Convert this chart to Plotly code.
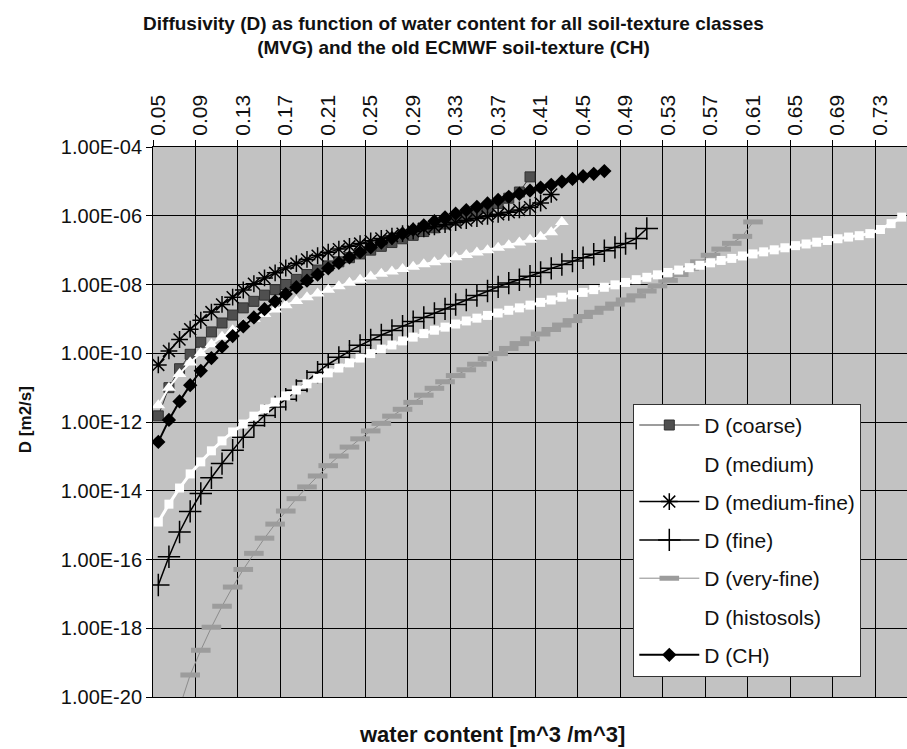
import plotly.graph_objects as go

# Water-content categories (m^3/m^3), one every 0.01
theta = [0.05, 0.06, 0.07, 0.08, 0.09, 0.10, 0.11, 0.12, 0.13, 0.14,
         0.15, 0.16, 0.17, 0.18, 0.19, 0.20, 0.21, 0.22, 0.23, 0.24,
         0.25, 0.26, 0.27, 0.28, 0.29, 0.30, 0.31, 0.32, 0.33, 0.34,
         0.35, 0.36, 0.37, 0.38, 0.39, 0.40, 0.41, 0.42, 0.43, 0.44,
         0.45, 0.46, 0.47, 0.48, 0.49, 0.50, 0.51, 0.52, 0.53, 0.54,
         0.55, 0.56, 0.57, 0.58, 0.59, 0.60, 0.61, 0.62, 0.63, 0.64,
         0.65, 0.66, 0.67, 0.68, 0.69, 0.70, 0.71, 0.72, 0.73, 0.74,
         0.75]

# Diffusivity D (m2/s) per soil texture, starting at the given theta
D_coarse = [1.51e-12, 1.00e-11, 3.55e-11, 9.33e-11, 2.09e-10, 4.17e-10, 7.59e-10, 1.29e-9,
            2.09e-9, 3.24e-9, 4.90e-9, 7.08e-9, 1.00e-8, 1.41e-8, 1.95e-8, 2.63e-8,
            3.47e-8, 4.57e-8, 6.03e-8, 7.76e-8, 1.00e-7, 1.29e-7, 1.66e-7, 2.14e-7,
            2.69e-7, 3.47e-7, 4.47e-7, 5.75e-7, 7.41e-7, 9.55e-7, 1.26e-6, 1.66e-6,
            2.29e-6, 3.24e-6, 4.90e-6, 1.35e-5]
D_medium = [3.09e-12, 1.00e-11, 2.51e-11, 5.37e-11, 1.02e-10, 1.82e-10, 3.02e-10, 4.68e-10,
            6.92e-10, 1.00e-9, 1.38e-9, 1.86e-9, 2.51e-9, 3.31e-9, 4.27e-9, 5.50e-9,
            7.08e-9, 8.91e-9, 1.12e-8, 1.38e-8, 1.70e-8, 2.04e-8, 2.40e-8, 2.82e-8,
            3.31e-8, 3.89e-8, 4.47e-8, 5.25e-8, 6.17e-8, 7.24e-8, 8.51e-8, 1.00e-7,
            1.17e-7, 1.38e-7, 1.66e-7, 2.00e-7, 2.45e-7, 3.31e-7, 6.61e-7]
D_medium_fine = [4.57e-11, 1.17e-10, 2.51e-10, 5.01e-10, 9.12e-10, 1.58e-9, 2.63e-9, 4.27e-9,
                 6.92e-9, 1.05e-8, 1.55e-8, 2.19e-8, 3.02e-8, 4.07e-8, 5.37e-8, 6.92e-8,
                 8.71e-8, 1.07e-7, 1.29e-7, 1.55e-7, 1.86e-7, 2.19e-7, 2.57e-7, 3.02e-7,
                 3.55e-7, 4.17e-7, 4.79e-7, 5.50e-7, 6.31e-7, 7.24e-7, 8.32e-7, 9.55e-7,
                 1.10e-6, 1.26e-6, 1.48e-6, 1.78e-6, 2.34e-6, 4.17e-6]
D_fine = [1.82e-17, 1.20e-16, 6.31e-16, 2.51e-15, 8.32e-15, 2.40e-14, 6.17e-14, 1.51e-13,
          3.63e-13, 7.94e-13, 1.55e-12, 2.75e-12, 4.57e-12, 8.32e-12, 1.55e-11, 2.82e-11,
          4.79e-11, 7.59e-11, 1.15e-10, 1.70e-10, 2.45e-10, 3.39e-10, 4.57e-10, 6.17e-10,
          8.32e-10, 1.10e-9, 1.45e-9, 1.95e-9, 2.63e-9, 3.55e-9, 4.79e-9, 6.46e-9,
          8.51e-9, 1.10e-8, 1.38e-8, 1.74e-8, 2.24e-8, 2.95e-8, 3.80e-8, 4.79e-8,
          6.03e-8, 7.59e-8, 9.55e-8, 1.20e-7, 1.55e-7, 2.19e-7, 4.27e-7]
D_very_fine = [5.01e-21, 4.37e-20, 2.29e-19, 1.07e-18, 4.37e-18, 1.58e-17, 5.13e-17, 1.51e-16,
               4.17e-16, 1.07e-15, 2.57e-15, 5.89e-15, 1.29e-14, 2.69e-14, 5.37e-14, 1.02e-13,
               1.86e-13, 3.24e-13, 5.50e-13, 9.12e-13, 1.48e-12, 2.34e-12, 3.72e-12, 6.03e-12,
               9.55e-12, 1.48e-11, 2.24e-11, 3.31e-11, 4.79e-11, 6.92e-11, 9.77e-11, 1.38e-10,
               1.91e-10, 2.63e-10, 3.63e-10, 4.90e-10, 6.61e-10, 8.91e-10, 1.17e-9, 1.55e-9,
               2.04e-9, 2.69e-9, 3.55e-9, 4.68e-9, 6.46e-9, 9.12e-9, 1.32e-8, 1.95e-8,
               2.95e-8, 4.57e-8, 7.08e-8, 1.07e-7, 1.58e-7, 2.51e-7, 6.61e-7]
D_histosols = [1.23e-15, 4.07e-15, 1.20e-14, 3.09e-14, 6.92e-14, 1.45e-13, 2.82e-13, 5.13e-13,
               8.71e-13, 1.48e-12, 2.40e-12, 3.80e-12, 5.75e-12, 8.51e-12, 1.29e-11, 1.86e-11,
               2.69e-11, 3.72e-11, 5.25e-11, 7.24e-11, 9.77e-11, 1.32e-10, 1.74e-10, 2.29e-10,
               2.95e-10, 3.72e-10, 4.68e-10, 5.75e-10, 7.08e-10, 8.71e-10, 1.05e-9, 1.26e-9,
               1.48e-9, 1.78e-9, 2.09e-9, 2.51e-9, 3.02e-9, 3.55e-9, 4.27e-9, 5.01e-9,
               5.89e-9, 7.08e-9, 8.32e-9, 9.77e-9, 1.15e-8, 1.38e-8, 1.62e-8, 1.91e-8,
               2.24e-8, 2.63e-8, 3.09e-8, 3.63e-8, 4.27e-8, 5.01e-8, 5.75e-8, 6.76e-8,
               7.76e-8, 8.91e-8, 1.02e-7, 1.17e-7, 1.35e-7, 1.51e-7, 1.70e-7, 1.91e-7,
               2.14e-7, 2.40e-7, 2.63e-7, 3.02e-7, 3.98e-7, 5.89e-7, 9.12e-7]
D_CH = [2.63e-13, 1.15e-12, 3.98e-12, 1.18e-11, 3.09e-11, 7.24e-11, 1.55e-10, 3.16e-10,
        6.03e-10, 1.10e-9, 1.91e-9, 3.24e-9, 5.25e-9, 8.32e-9, 1.29e-8, 1.95e-8,
        2.95e-8, 4.27e-8, 6.17e-8, 8.71e-8, 1.20e-7, 1.66e-7, 2.24e-7, 3.02e-7,
        3.98e-7, 5.25e-7, 6.92e-7, 8.91e-7, 1.15e-6, 1.45e-6, 1.82e-6, 2.29e-6,
        2.88e-6, 3.55e-6, 4.37e-6, 5.37e-6, 6.61e-6, 7.94e-6, 9.77e-6, 1.18e-5,
        1.41e-5, 1.66e-5, 2.00e-5]

# Axis tick labels
x_ticklabels = ["0.05", "0.09", "0.13", "0.17", "0.21", "0.25", "0.29", "0.33", "0.37",
                "0.41", "0.45", "0.49", "0.53", "0.57", "0.61", "0.65", "0.69", "0.73"]
y_tickvals = [1e-4, 1e-6, 1e-8, 1e-10, 1e-12, 1e-14, 1e-16, 1e-18, 1e-20]
y_ticklabels = ["1.00E-04", "1.00E-06", "1.00E-08", "1.00E-10", "1.00E-12",
                "1.00E-14", "1.00E-16", "1.00E-18", "1.00E-20"]

FONT = "Liberation Sans, Arial, sans-serif"

series = [
    ("D (coarse)", 0, D_coarse,
     dict(color="#3a3a3a", width=1),
     dict(symbol="square", size=10, color="#4f4f4f", line=dict(color="#333333", width=1))),
    ("D (medium)", 0, D_medium,
     dict(color="white", width=2),
     dict(symbol="triangle-up", size=12, color="white", line=dict(width=0))),
    ("D (medium-fine)", 0, D_medium_fine,
     dict(color="black", width=1.5),
     dict(symbol="asterisk-open", size=14, color="black", line=dict(color="black", width=1.5))),
    ("D (fine)", 0, D_fine,
     dict(color="black", width=1.5),
     dict(symbol="cross-thin-open", size=16, color="black", line=dict(color="black", width=1.5))),
    ("D (very-fine)", 2, D_very_fine,
     dict(color="#8c8c8c", width=1),
     dict(symbol="line-ew-open", size=14, color="#9c9c9c", line=dict(color="#9c9c9c", width=5))),
    ("D (histosols)", 0, D_histosols,
     dict(color="white", width=3),
     dict(symbol="square", size=9, color="white", line=dict(width=0))),
    ("D (CH)", 0, D_CH,
     dict(color="black", width=2),
     dict(symbol="diamond", size=11, color="black", line=dict(width=0))),
]

fig = go.Figure()
for i, (name, start, values, line, marker) in enumerate(series):
    fig.add_trace(go.Scatter(
        x=theta[start:start + len(values)], y=values, name=name,
        mode="lines+markers", line=line, marker=marker,
        legendgroup=f"g{i}", cliponaxis=True,
    ))

# gridlines sit on category boundaries, labels on category centres
x_tickvals = [round(float(t) - 0.005, 3) for t in x_ticklabels]

fig.update_layout(
    width=907, height=749,
    margin=dict(l=153, r=0, t=147, b=52),
    paper_bgcolor="white",
    plot_bgcolor="#c2c2c2",
    font=dict(family=FONT, color="#111111"),
    title=dict(
        text="<b>Diffusivity (D) as function of water content for all soil-texture classes<br>"
             "(MVG) and the old ECMWF soil-texture (CH)</b>",
        font=dict(size=19, family=FONT, color="#111111"),
        x=0.5, xref="container", xanchor="center",
        y=1 - 29.5 / 749, yref="container", yanchor="middle",
    ),
    xaxis=dict(
        side="top", range=[0.045, 0.755],
        tickmode="array", tickvals=x_tickvals, ticktext=x_ticklabels,
        tickangle=-90, ticklabelshift=5,
        ticks="outside", ticklen=6, tickcolor="black",
        tickfont=dict(size=21, family=FONT, color="#111111"),
        showgrid=True, gridcolor="black", gridwidth=1,
        showline=True, linecolor="black", linewidth=1, mirror=True,
        zeroline=False,
    ),
    yaxis=dict(
        type="log", range=[-20, -4],
        tickmode="array", tickvals=y_tickvals, ticktext=y_ticklabels,
        ticks="outside", ticklen=6, tickcolor="black",
        tickfont=dict(size=20, family=FONT, color="#111111"),
        showgrid=True, gridcolor="black", gridwidth=1,
        showline=True, linecolor="black", linewidth=1, mirror=True,
        zeroline=False,
    ),
    legend=dict(
        x=0.637, y=0.533, xanchor="left", yanchor="top",
        bgcolor="white", bordercolor="#333333", borderwidth=1,
        font=dict(size=21, family=FONT, color="#111111"),
        itemwidth=60, tracegroupgap=8,
    ),
    annotations=[
        dict(text="<b>water content [m^3 /m^3]</b>", xref="paper", yref="paper",
             x=0.45, y=-0.069, xanchor="center", yanchor="middle", showarrow=False,
             font=dict(size=22, family=FONT, color="#111111")),
        dict(text="<b>D [m2/s]</b>", xref="paper", yref="paper",
             x=-0.1693, y=0.504, xanchor="center", yanchor="middle", showarrow=False,
             textangle=-90, font=dict(size=17, family=FONT, color="#111111")),
    ],
)

fig.write_html("out.html")
